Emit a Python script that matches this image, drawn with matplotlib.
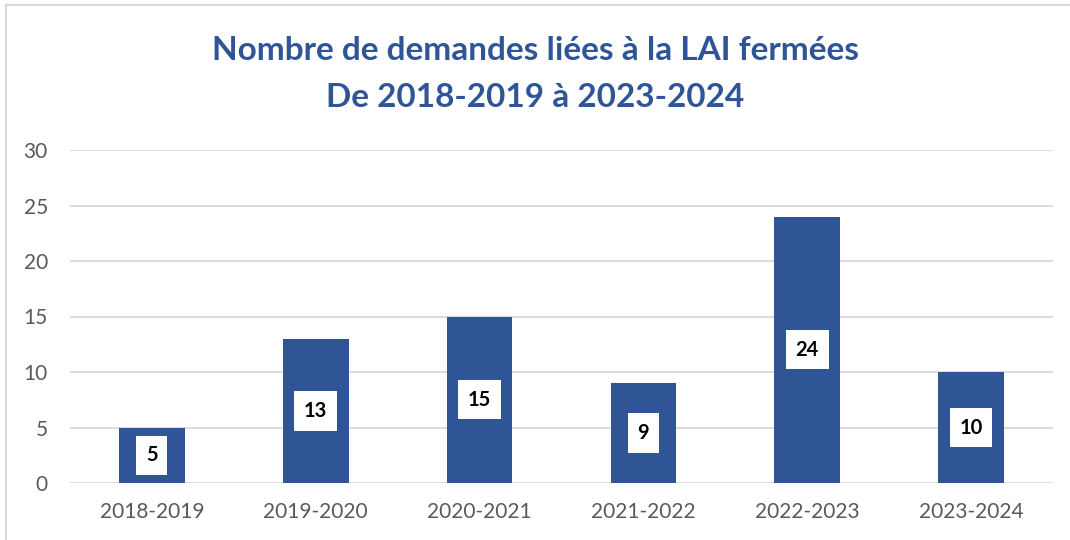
import matplotlib
matplotlib.use("Agg")
import matplotlib.pyplot as plt
from matplotlib.patches import Rectangle

categories = ["2018-2019", "2019-2020", "2020-2021", "2021-2022", "2022-2023", "2023-2024"]
values = [5, 13, 15, 9, 24, 10]
yticks = [0, 5, 10, 15, 20, 25, 30]
title_lines = ["Nombre de demandes liées à la LAI fermées", "De 2018-2019 à 2023-2024"]

W, H = 1070, 540
fig = plt.figure(figsize=(W / 100, H / 100), dpi=100)
plt.rcParams['font.family'] = ['Lato', 'DejaVu Sans']

bar_color = "#2F5597"
ax = fig.add_axes([70 / W, 1 - 483 / H, (1053 - 70) / W, (483 - 150) / H])
x = list(range(len(categories)))
ax.bar(x, values, width=0.40, color=bar_color, zorder=3)
ax.set_xlim(-0.5, len(categories) - 0.5)
ax.set_ylim(0, 30)
ax.set_yticks(yticks)
ax.set_xticks(x)
ax.set_xticklabels(categories)
ax.tick_params(axis='both', length=0, labelsize=15, colors="#595959")
ax.tick_params(axis='x', pad=14)
ax.tick_params(axis='y', pad=16)
ax.grid(axis='y', color="#D9D9D9", linewidth=1.3, zorder=0)
for s in ax.spines.values():
    s.set_visible(False)

for xi, v in zip(x, values):
    ax.text(xi, v / 2, str(v), ha='center', va='center', fontsize=14.5, fontweight='bold',
            color='black', zorder=5,
            bbox=dict(boxstyle='square,pad=0.48', facecolor='white', edgecolor='none'))

for yb, line in zip([60, 107], title_lines):
    fig.text(0.5, 1 - yb / H, line, ha='center', va='baseline', fontsize=24, fontweight='bold',
             color=bar_color)

fig.patches.append(Rectangle((6 / W, -0.05), 1.1, 1 - 5 / H + 0.05,
                             transform=fig.transFigure, fill=False, edgecolor="#D9D9D9", linewidth=1.5))

fig.savefig("out.png", dpi=100)
